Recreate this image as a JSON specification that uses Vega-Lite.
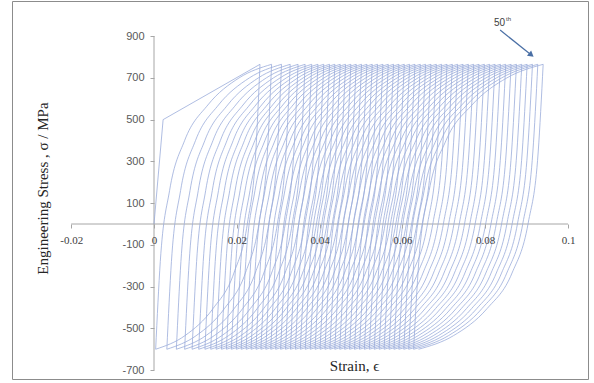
{"$schema":"https://vega.github.io/schema/vega-lite/v6.json","width":576,"height":378,"autosize":{"type":"none"},"padding":{"left":12,"top":1,"right":6,"bottom":4},"background":"white","config":{"view":{"stroke":"#8c8c8c","strokeWidth":1}},
"datasets":{
"axl":[{"x":-0.02,"x2":0.1,"y":0,"y2":0},{"x":0,"x2":0,"y":-700,"y2":900}],
"L":[
{"b":0,"x":0,"y":0},{"b":0,"x":0.0022,"y":500},{"b":0,"x":0.0256,"y":765},
{"b":1,"x":0.0256,"y":765},{"b":1,"x":0.02459,"y":345},{"b":1,"x":0.02258,"y":5},{"b":1,"x":0.0193,"y":-235},{"b":1,"x":0.01426,"y":-405},{"b":1,"x":0.00746,"y":-535},{"b":1,"x":0.0004,"y":-600},
{"b":2,"x":0.0004,"y":-600},{"b":2,"x":0.00152,"y":-180},{"b":2,"x":0.00376,"y":160},{"b":2,"x":0.0074,"y":400},{"b":2,"x":0.013,"y":570},{"b":2,"x":0.02056,"y":700},{"b":2,"x":0.0284,"y":765},
{"b":3,"x":0.0284,"y":765},{"b":3,"x":0.02739,"y":345},{"b":3,"x":0.02536,"y":5},{"b":3,"x":0.02207,"y":-235},{"b":3,"x":0.01701,"y":-405},{"b":3,"x":0.01018,"y":-535},{"b":3,"x":0.0031,"y":-600},
{"b":4,"x":0.0031,"y":-600},{"b":4,"x":0.00421,"y":-180},{"b":4,"x":0.00642,"y":160},{"b":4,"x":0.01003,"y":400},{"b":4,"x":0.01557,"y":570},{"b":4,"x":0.02304,"y":700},{"b":4,"x":0.0308,"y":765},
{"b":5,"x":0.0308,"y":765},{"b":5,"x":0.02978,"y":345},{"b":5,"x":0.02775,"y":5},{"b":5,"x":0.02445,"y":-235},{"b":5,"x":0.01937,"y":-405},{"b":5,"x":0.01251,"y":-535},{"b":5,"x":0.0054,"y":-600},
{"b":6,"x":0.0054,"y":-600},{"b":6,"x":0.0065,"y":-180},{"b":6,"x":0.0087,"y":160},{"b":6,"x":0.01228,"y":400},{"b":6,"x":0.01778,"y":570},{"b":6,"x":0.0252,"y":700},{"b":6,"x":0.0329,"y":765},
{"b":7,"x":0.0329,"y":765},{"b":7,"x":0.03188,"y":345},{"b":7,"x":0.02984,"y":5},{"b":7,"x":0.02652,"y":-235},{"b":7,"x":0.02142,"y":-405},{"b":7,"x":0.01454,"y":-535},{"b":7,"x":0.0074,"y":-600},
{"b":8,"x":0.0074,"y":-600},{"b":8,"x":0.0085,"y":-180},{"b":8,"x":0.01069,"y":160},{"b":8,"x":0.01425,"y":400},{"b":8,"x":0.01973,"y":570},{"b":8,"x":0.02713,"y":700},{"b":8,"x":0.0348,"y":765},
{"b":9,"x":0.0348,"y":765},{"b":9,"x":0.03378,"y":345},{"b":9,"x":0.03173,"y":5},{"b":9,"x":0.0284,"y":-235},{"b":9,"x":0.02328,"y":-405},{"b":9,"x":0.01637,"y":-535},{"b":9,"x":0.0092,"y":-600},
{"b":10,"x":0.0092,"y":-600},{"b":10,"x":0.01029,"y":-180},{"b":10,"x":0.01248,"y":160},{"b":10,"x":0.01603,"y":400},{"b":10,"x":0.02149,"y":570},{"b":10,"x":0.02886,"y":700},{"b":10,"x":0.0365,"y":765},
{"b":11,"x":0.0365,"y":765},{"b":11,"x":0.03547,"y":345},{"b":11,"x":0.03342,"y":5},{"b":11,"x":0.03007,"y":-235},{"b":11,"x":0.02493,"y":-405},{"b":11,"x":0.018,"y":-535},{"b":11,"x":0.0108,"y":-600},
{"b":12,"x":0.0108,"y":-600},{"b":12,"x":0.01189,"y":-180},{"b":12,"x":0.01408,"y":160},{"b":12,"x":0.01763,"y":400},{"b":12,"x":0.02309,"y":570},{"b":12,"x":0.03046,"y":700},{"b":12,"x":0.0381,"y":765},
{"b":13,"x":0.0381,"y":765},{"b":13,"x":0.03707,"y":345},{"b":13,"x":0.035,"y":5},{"b":13,"x":0.03165,"y":-235},{"b":13,"x":0.02649,"y":-405},{"b":13,"x":0.01952,"y":-535},{"b":13,"x":0.0123,"y":-600},
{"b":14,"x":0.0123,"y":-600},{"b":14,"x":0.01339,"y":-180},{"b":14,"x":0.01558,"y":160},{"b":14,"x":0.01913,"y":400},{"b":14,"x":0.02459,"y":570},{"b":14,"x":0.03196,"y":700},{"b":14,"x":0.0396,"y":765},
{"b":15,"x":0.0396,"y":765},{"b":15,"x":0.03856,"y":345},{"b":15,"x":0.03649,"y":5},{"b":15,"x":0.03312,"y":-235},{"b":15,"x":0.02794,"y":-405},{"b":15,"x":0.02095,"y":-535},{"b":15,"x":0.0137,"y":-600},
{"b":16,"x":0.0137,"y":-600},{"b":16,"x":0.01479,"y":-180},{"b":16,"x":0.01698,"y":160},{"b":16,"x":0.02053,"y":400},{"b":16,"x":0.02599,"y":570},{"b":16,"x":0.03336,"y":700},{"b":16,"x":0.041,"y":765},
{"b":17,"x":0.041,"y":765},{"b":17,"x":0.03996,"y":345},{"b":17,"x":0.03788,"y":5},{"b":17,"x":0.0345,"y":-235},{"b":17,"x":0.0293,"y":-405},{"b":17,"x":0.02228,"y":-535},{"b":17,"x":0.015,"y":-600},
{"b":18,"x":0.015,"y":-600},{"b":18,"x":0.0161,"y":-180},{"b":18,"x":0.01829,"y":160},{"b":18,"x":0.02185,"y":400},{"b":18,"x":0.02733,"y":570},{"b":18,"x":0.03473,"y":700},{"b":18,"x":0.0424,"y":765},
{"b":19,"x":0.0424,"y":765},{"b":19,"x":0.04136,"y":345},{"b":19,"x":0.03927,"y":5},{"b":19,"x":0.03588,"y":-235},{"b":19,"x":0.03066,"y":-405},{"b":19,"x":0.02361,"y":-535},{"b":19,"x":0.0163,"y":-600},
{"b":20,"x":0.0163,"y":-600},{"b":20,"x":0.0174,"y":-180},{"b":20,"x":0.01959,"y":160},{"b":20,"x":0.02315,"y":400},{"b":20,"x":0.02863,"y":570},{"b":20,"x":0.03602,"y":700},{"b":20,"x":0.04369,"y":765},
{"b":21,"x":0.04369,"y":765},{"b":21,"x":0.04264,"y":345},{"b":21,"x":0.04055,"y":5},{"b":21,"x":0.03714,"y":-235},{"b":21,"x":0.0319,"y":-405},{"b":21,"x":0.02483,"y":-535},{"b":21,"x":0.01749,"y":-600},
{"b":22,"x":0.01749,"y":-600},{"b":22,"x":0.01859,"y":-180},{"b":22,"x":0.02079,"y":160},{"b":22,"x":0.02436,"y":400},{"b":22,"x":0.02986,"y":570},{"b":22,"x":0.03728,"y":700},{"b":22,"x":0.04498,"y":765},
{"b":23,"x":0.04498,"y":765},{"b":23,"x":0.04393,"y":345},{"b":23,"x":0.04182,"y":5},{"b":23,"x":0.03841,"y":-235},{"b":23,"x":0.03315,"y":-405},{"b":23,"x":0.02604,"y":-535},{"b":23,"x":0.01868,"y":-600},
{"b":24,"x":0.01868,"y":-600},{"b":24,"x":0.01978,"y":-180},{"b":24,"x":0.02199,"y":160},{"b":24,"x":0.02558,"y":400},{"b":24,"x":0.0311,"y":570},{"b":24,"x":0.03854,"y":700},{"b":24,"x":0.04627,"y":765},
{"b":25,"x":0.04627,"y":765},{"b":25,"x":0.04521,"y":345},{"b":25,"x":0.0431,"y":5},{"b":25,"x":0.03967,"y":-235},{"b":25,"x":0.03439,"y":-405},{"b":25,"x":0.02726,"y":-535},{"b":25,"x":0.01987,"y":-600},
{"b":26,"x":0.01987,"y":-600},{"b":26,"x":0.02098,"y":-180},{"b":26,"x":0.02319,"y":160},{"b":26,"x":0.02679,"y":400},{"b":26,"x":0.03233,"y":570},{"b":26,"x":0.03981,"y":700},{"b":26,"x":0.04756,"y":765},
{"b":27,"x":0.04756,"y":765},{"b":27,"x":0.0465,"y":345},{"b":27,"x":0.04438,"y":5},{"b":27,"x":0.04094,"y":-235},{"b":27,"x":0.03564,"y":-405},{"b":27,"x":0.02848,"y":-535},{"b":27,"x":0.02106,"y":-600},
{"b":28,"x":0.02106,"y":-600},{"b":28,"x":0.02217,"y":-180},{"b":28,"x":0.02439,"y":160},{"b":28,"x":0.02801,"y":400},{"b":28,"x":0.03357,"y":570},{"b":28,"x":0.04107,"y":700},{"b":28,"x":0.04885,"y":765},
{"b":29,"x":0.04885,"y":765},{"b":29,"x":0.04779,"y":345},{"b":29,"x":0.04566,"y":5},{"b":29,"x":0.0422,"y":-235},{"b":29,"x":0.03688,"y":-405},{"b":29,"x":0.0297,"y":-535},{"b":29,"x":0.02225,"y":-600},
{"b":30,"x":0.02225,"y":-600},{"b":30,"x":0.02337,"y":-180},{"b":30,"x":0.0256,"y":160},{"b":30,"x":0.02922,"y":400},{"b":30,"x":0.0348,"y":570},{"b":30,"x":0.04233,"y":700},{"b":30,"x":0.05014,"y":765},
{"b":31,"x":0.05014,"y":765},{"b":31,"x":0.04907,"y":345},{"b":31,"x":0.04694,"y":5},{"b":31,"x":0.04347,"y":-235},{"b":31,"x":0.03813,"y":-405},{"b":31,"x":0.03092,"y":-535},{"b":31,"x":0.02344,"y":-600},
{"b":32,"x":0.02344,"y":-600},{"b":32,"x":0.02456,"y":-180},{"b":32,"x":0.0268,"y":160},{"b":32,"x":0.03044,"y":400},{"b":32,"x":0.03604,"y":570},{"b":32,"x":0.04359,"y":700},{"b":32,"x":0.05143,"y":765},
{"b":33,"x":0.05143,"y":765},{"b":33,"x":0.05036,"y":345},{"b":33,"x":0.04821,"y":5},{"b":33,"x":0.04473,"y":-235},{"b":33,"x":0.03937,"y":-405},{"b":33,"x":0.03213,"y":-535},{"b":33,"x":0.02463,"y":-600},
{"b":34,"x":0.02463,"y":-600},{"b":34,"x":0.02575,"y":-180},{"b":34,"x":0.028,"y":160},{"b":34,"x":0.03165,"y":400},{"b":34,"x":0.03727,"y":570},{"b":34,"x":0.04485,"y":700},{"b":34,"x":0.05272,"y":765},
{"b":35,"x":0.05272,"y":765},{"b":35,"x":0.05164,"y":345},{"b":35,"x":0.04949,"y":5},{"b":35,"x":0.046,"y":-235},{"b":35,"x":0.04062,"y":-405},{"b":35,"x":0.03335,"y":-535},{"b":35,"x":0.02582,"y":-600},
{"b":36,"x":0.02582,"y":-600},{"b":36,"x":0.02695,"y":-180},{"b":36,"x":0.0292,"y":160},{"b":36,"x":0.03287,"y":400},{"b":36,"x":0.03851,"y":570},{"b":36,"x":0.04612,"y":700},{"b":36,"x":0.05401,"y":765},
{"b":37,"x":0.05401,"y":765},{"b":37,"x":0.05293,"y":345},{"b":37,"x":0.05077,"y":5},{"b":37,"x":0.04726,"y":-235},{"b":37,"x":0.04186,"y":-405},{"b":37,"x":0.03457,"y":-535},{"b":37,"x":0.02701,"y":-600},
{"b":38,"x":0.02701,"y":-600},{"b":38,"x":0.02814,"y":-180},{"b":38,"x":0.0304,"y":160},{"b":38,"x":0.03408,"y":400},{"b":38,"x":0.03974,"y":570},{"b":38,"x":0.04738,"y":700},{"b":38,"x":0.0553,"y":765},
{"b":39,"x":0.0553,"y":765},{"b":39,"x":0.05422,"y":345},{"b":39,"x":0.05205,"y":5},{"b":39,"x":0.04853,"y":-235},{"b":39,"x":0.04311,"y":-405},{"b":39,"x":0.03579,"y":-535},{"b":39,"x":0.0282,"y":-600},
{"b":40,"x":0.0282,"y":-600},{"b":40,"x":0.02934,"y":-180},{"b":40,"x":0.03161,"y":160},{"b":40,"x":0.0353,"y":400},{"b":40,"x":0.04098,"y":570},{"b":40,"x":0.04864,"y":700},{"b":40,"x":0.05659,"y":765},
{"b":41,"x":0.05659,"y":765},{"b":41,"x":0.0555,"y":345},{"b":41,"x":0.05333,"y":5},{"b":41,"x":0.04979,"y":-235},{"b":41,"x":0.04435,"y":-405},{"b":41,"x":0.03701,"y":-535},{"b":41,"x":0.02939,"y":-600},
{"b":42,"x":0.02939,"y":-600},{"b":42,"x":0.03053,"y":-180},{"b":42,"x":0.03281,"y":160},{"b":42,"x":0.03651,"y":400},{"b":42,"x":0.04221,"y":570},{"b":42,"x":0.0499,"y":700},{"b":42,"x":0.05788,"y":765},
{"b":43,"x":0.05788,"y":765},{"b":43,"x":0.05679,"y":345},{"b":43,"x":0.0546,"y":5},{"b":43,"x":0.05106,"y":-235},{"b":43,"x":0.0456,"y":-405},{"b":43,"x":0.03822,"y":-535},{"b":43,"x":0.03058,"y":-600},
{"b":44,"x":0.03058,"y":-600},{"b":44,"x":0.03172,"y":-180},{"b":44,"x":0.03401,"y":160},{"b":44,"x":0.03773,"y":400},{"b":44,"x":0.04345,"y":570},{"b":44,"x":0.05116,"y":700},{"b":44,"x":0.05917,"y":765},
{"b":45,"x":0.05917,"y":765},{"b":45,"x":0.05807,"y":345},{"b":45,"x":0.05588,"y":5},{"b":45,"x":0.05232,"y":-235},{"b":45,"x":0.04684,"y":-405},{"b":45,"x":0.03944,"y":-535},{"b":45,"x":0.03177,"y":-600},
{"b":46,"x":0.03177,"y":-600},{"b":46,"x":0.03292,"y":-180},{"b":46,"x":0.03521,"y":160},{"b":46,"x":0.03894,"y":400},{"b":46,"x":0.04468,"y":570},{"b":46,"x":0.05243,"y":700},{"b":46,"x":0.06046,"y":765},
{"b":47,"x":0.06046,"y":765},{"b":47,"x":0.05936,"y":345},{"b":47,"x":0.05716,"y":5},{"b":47,"x":0.05359,"y":-235},{"b":47,"x":0.04809,"y":-405},{"b":47,"x":0.04066,"y":-535},{"b":47,"x":0.03296,"y":-600},
{"b":48,"x":0.03296,"y":-600},{"b":48,"x":0.03411,"y":-180},{"b":48,"x":0.03641,"y":160},{"b":48,"x":0.04016,"y":400},{"b":48,"x":0.04592,"y":570},{"b":48,"x":0.05369,"y":700},{"b":48,"x":0.06175,"y":765},
{"b":49,"x":0.06175,"y":765},{"b":49,"x":0.06065,"y":345},{"b":49,"x":0.05844,"y":5},{"b":49,"x":0.05485,"y":-235},{"b":49,"x":0.04933,"y":-405},{"b":49,"x":0.04188,"y":-535},{"b":49,"x":0.03415,"y":-600},
{"b":50,"x":0.03415,"y":-600},{"b":50,"x":0.03531,"y":-180},{"b":50,"x":0.03762,"y":160},{"b":50,"x":0.04137,"y":400},{"b":50,"x":0.04715,"y":570},{"b":50,"x":0.05495,"y":700},{"b":50,"x":0.06304,"y":765},
{"b":51,"x":0.06304,"y":765},{"b":51,"x":0.06193,"y":345},{"b":51,"x":0.05972,"y":5},{"b":51,"x":0.05612,"y":-235},{"b":51,"x":0.05058,"y":-405},{"b":51,"x":0.0431,"y":-535},{"b":51,"x":0.03534,"y":-600},
{"b":52,"x":0.03534,"y":-600},{"b":52,"x":0.0365,"y":-180},{"b":52,"x":0.03882,"y":160},{"b":52,"x":0.04259,"y":400},{"b":52,"x":0.04839,"y":570},{"b":52,"x":0.05621,"y":700},{"b":52,"x":0.06433,"y":765},
{"b":53,"x":0.06433,"y":765},{"b":53,"x":0.06322,"y":345},{"b":53,"x":0.06099,"y":5},{"b":53,"x":0.05738,"y":-235},{"b":53,"x":0.05182,"y":-405},{"b":53,"x":0.04431,"y":-535},{"b":53,"x":0.03653,"y":-600},
{"b":54,"x":0.03653,"y":-600},{"b":54,"x":0.03769,"y":-180},{"b":54,"x":0.04002,"y":160},{"b":54,"x":0.0438,"y":400},{"b":54,"x":0.04962,"y":570},{"b":54,"x":0.05747,"y":700},{"b":54,"x":0.06562,"y":765},
{"b":55,"x":0.06562,"y":765},{"b":55,"x":0.0645,"y":345},{"b":55,"x":0.06227,"y":5},{"b":55,"x":0.05865,"y":-235},{"b":55,"x":0.05307,"y":-405},{"b":55,"x":0.04553,"y":-535},{"b":55,"x":0.03772,"y":-600},
{"b":56,"x":0.03772,"y":-600},{"b":56,"x":0.03889,"y":-180},{"b":56,"x":0.04122,"y":160},{"b":56,"x":0.04502,"y":400},{"b":56,"x":0.05086,"y":570},{"b":56,"x":0.05874,"y":700},{"b":56,"x":0.06691,"y":765},
{"b":57,"x":0.06691,"y":765},{"b":57,"x":0.06579,"y":345},{"b":57,"x":0.06355,"y":5},{"b":57,"x":0.05991,"y":-235},{"b":57,"x":0.05431,"y":-405},{"b":57,"x":0.04675,"y":-535},{"b":57,"x":0.03891,"y":-600},
{"b":58,"x":0.03891,"y":-600},{"b":58,"x":0.04008,"y":-180},{"b":58,"x":0.04242,"y":160},{"b":58,"x":0.04623,"y":400},{"b":58,"x":0.05209,"y":570},{"b":58,"x":0.06,"y":700},{"b":58,"x":0.0682,"y":765},
{"b":59,"x":0.0682,"y":765},{"b":59,"x":0.06708,"y":345},{"b":59,"x":0.06483,"y":5},{"b":59,"x":0.06118,"y":-235},{"b":59,"x":0.05556,"y":-405},{"b":59,"x":0.04797,"y":-535},{"b":59,"x":0.0401,"y":-600},
{"b":60,"x":0.0401,"y":-600},{"b":60,"x":0.04128,"y":-180},{"b":60,"x":0.04363,"y":160},{"b":60,"x":0.04745,"y":400},{"b":60,"x":0.05333,"y":570},{"b":60,"x":0.06126,"y":700},{"b":60,"x":0.06949,"y":765},
{"b":61,"x":0.06949,"y":765},{"b":61,"x":0.06836,"y":345},{"b":61,"x":0.06611,"y":5},{"b":61,"x":0.06244,"y":-235},{"b":61,"x":0.0568,"y":-405},{"b":61,"x":0.04919,"y":-535},{"b":61,"x":0.04129,"y":-600},
{"b":62,"x":0.04129,"y":-600},{"b":62,"x":0.04247,"y":-180},{"b":62,"x":0.04483,"y":160},{"b":62,"x":0.04866,"y":400},{"b":62,"x":0.05456,"y":570},{"b":62,"x":0.06252,"y":700},{"b":62,"x":0.07078,"y":765},
{"b":63,"x":0.07078,"y":765},{"b":63,"x":0.06965,"y":345},{"b":63,"x":0.06738,"y":5},{"b":63,"x":0.06371,"y":-235},{"b":63,"x":0.05805,"y":-405},{"b":63,"x":0.0504,"y":-535},{"b":63,"x":0.04248,"y":-600},
{"b":64,"x":0.04248,"y":-600},{"b":64,"x":0.04366,"y":-180},{"b":64,"x":0.04603,"y":160},{"b":64,"x":0.04988,"y":400},{"b":64,"x":0.0558,"y":570},{"b":64,"x":0.06378,"y":700},{"b":64,"x":0.07207,"y":765},
{"b":65,"x":0.07207,"y":765},{"b":65,"x":0.07093,"y":345},{"b":65,"x":0.06866,"y":5},{"b":65,"x":0.06497,"y":-235},{"b":65,"x":0.05929,"y":-405},{"b":65,"x":0.05162,"y":-535},{"b":65,"x":0.04367,"y":-600},
{"b":66,"x":0.04367,"y":-600},{"b":66,"x":0.04486,"y":-180},{"b":66,"x":0.04723,"y":160},{"b":66,"x":0.05109,"y":400},{"b":66,"x":0.05703,"y":570},{"b":66,"x":0.06505,"y":700},{"b":66,"x":0.07336,"y":765},
{"b":67,"x":0.07336,"y":765},{"b":67,"x":0.07222,"y":345},{"b":67,"x":0.06994,"y":5},{"b":67,"x":0.06624,"y":-235},{"b":67,"x":0.06054,"y":-405},{"b":67,"x":0.05284,"y":-535},{"b":67,"x":0.04486,"y":-600},
{"b":68,"x":0.04486,"y":-600},{"b":68,"x":0.04605,"y":-180},{"b":68,"x":0.04843,"y":160},{"b":68,"x":0.05231,"y":400},{"b":68,"x":0.05827,"y":570},{"b":68,"x":0.06631,"y":700},{"b":68,"x":0.07465,"y":765},
{"b":69,"x":0.07465,"y":765},{"b":69,"x":0.07351,"y":345},{"b":69,"x":0.07122,"y":5},{"b":69,"x":0.0675,"y":-235},{"b":69,"x":0.06178,"y":-405},{"b":69,"x":0.05406,"y":-535},{"b":69,"x":0.04605,"y":-600},
{"b":70,"x":0.04605,"y":-600},{"b":70,"x":0.04725,"y":-180},{"b":70,"x":0.04964,"y":160},{"b":70,"x":0.05352,"y":400},{"b":70,"x":0.0595,"y":570},{"b":70,"x":0.06757,"y":700},{"b":70,"x":0.07594,"y":765},
{"b":71,"x":0.07594,"y":765},{"b":71,"x":0.07479,"y":345},{"b":71,"x":0.0725,"y":5},{"b":71,"x":0.06877,"y":-235},{"b":71,"x":0.06303,"y":-405},{"b":71,"x":0.05528,"y":-535},{"b":71,"x":0.04724,"y":-600},
{"b":72,"x":0.04724,"y":-600},{"b":72,"x":0.04844,"y":-180},{"b":72,"x":0.05084,"y":160},{"b":72,"x":0.05474,"y":400},{"b":72,"x":0.06074,"y":570},{"b":72,"x":0.06883,"y":700},{"b":72,"x":0.07723,"y":765},
{"b":73,"x":0.07723,"y":765},{"b":73,"x":0.07608,"y":345},{"b":73,"x":0.07377,"y":5},{"b":73,"x":0.07003,"y":-235},{"b":73,"x":0.06427,"y":-405},{"b":73,"x":0.05649,"y":-535},{"b":73,"x":0.04843,"y":-600},
{"b":74,"x":0.04843,"y":-600},{"b":74,"x":0.04963,"y":-180},{"b":74,"x":0.05204,"y":160},{"b":74,"x":0.05595,"y":400},{"b":74,"x":0.06197,"y":570},{"b":74,"x":0.07009,"y":700},{"b":74,"x":0.07852,"y":765},
{"b":75,"x":0.07852,"y":765},{"b":75,"x":0.07736,"y":345},{"b":75,"x":0.07505,"y":5},{"b":75,"x":0.0713,"y":-235},{"b":75,"x":0.06552,"y":-405},{"b":75,"x":0.05771,"y":-535},{"b":75,"x":0.04962,"y":-600},
{"b":76,"x":0.04962,"y":-600},{"b":76,"x":0.05083,"y":-180},{"b":76,"x":0.05324,"y":160},{"b":76,"x":0.05717,"y":400},{"b":76,"x":0.06321,"y":570},{"b":76,"x":0.07136,"y":700},{"b":76,"x":0.07981,"y":765},
{"b":77,"x":0.07981,"y":765},{"b":77,"x":0.07865,"y":345},{"b":77,"x":0.07633,"y":5},{"b":77,"x":0.07256,"y":-235},{"b":77,"x":0.06676,"y":-405},{"b":77,"x":0.05893,"y":-535},{"b":77,"x":0.05081,"y":-600},
{"b":78,"x":0.05081,"y":-600},{"b":78,"x":0.05202,"y":-180},{"b":78,"x":0.05444,"y":160},{"b":78,"x":0.05838,"y":400},{"b":78,"x":0.06444,"y":570},{"b":78,"x":0.07262,"y":700},{"b":78,"x":0.0811,"y":765},
{"b":79,"x":0.0811,"y":765},{"b":79,"x":0.07994,"y":345},{"b":79,"x":0.07761,"y":5},{"b":79,"x":0.07383,"y":-235},{"b":79,"x":0.06801,"y":-405},{"b":79,"x":0.06015,"y":-535},{"b":79,"x":0.052,"y":-600},
{"b":80,"x":0.052,"y":-600},{"b":80,"x":0.05322,"y":-180},{"b":80,"x":0.05565,"y":160},{"b":80,"x":0.0596,"y":400},{"b":80,"x":0.06568,"y":570},{"b":80,"x":0.07388,"y":700},{"b":80,"x":0.08239,"y":765},
{"b":81,"x":0.08239,"y":765},{"b":81,"x":0.08122,"y":345},{"b":81,"x":0.07889,"y":5},{"b":81,"x":0.07509,"y":-235},{"b":81,"x":0.06925,"y":-405},{"b":81,"x":0.06137,"y":-535},{"b":81,"x":0.05319,"y":-600},
{"b":82,"x":0.05319,"y":-600},{"b":82,"x":0.05441,"y":-180},{"b":82,"x":0.05685,"y":160},{"b":82,"x":0.06081,"y":400},{"b":82,"x":0.06691,"y":570},{"b":82,"x":0.07514,"y":700},{"b":82,"x":0.08368,"y":765},
{"b":83,"x":0.08368,"y":765},{"b":83,"x":0.08251,"y":345},{"b":83,"x":0.08016,"y":5},{"b":83,"x":0.07636,"y":-235},{"b":83,"x":0.0705,"y":-405},{"b":83,"x":0.06258,"y":-535},{"b":83,"x":0.05438,"y":-600},
{"b":84,"x":0.05438,"y":-600},{"b":84,"x":0.0556,"y":-180},{"b":84,"x":0.05805,"y":160},{"b":84,"x":0.06203,"y":400},{"b":84,"x":0.06815,"y":570},{"b":84,"x":0.0764,"y":700},{"b":84,"x":0.08497,"y":765},
{"b":85,"x":0.08497,"y":765},{"b":85,"x":0.08379,"y":345},{"b":85,"x":0.08144,"y":5},{"b":85,"x":0.07762,"y":-235},{"b":85,"x":0.07174,"y":-405},{"b":85,"x":0.0638,"y":-535},{"b":85,"x":0.05557,"y":-600},
{"b":86,"x":0.05557,"y":-600},{"b":86,"x":0.0568,"y":-180},{"b":86,"x":0.05925,"y":160},{"b":86,"x":0.06324,"y":400},{"b":86,"x":0.06938,"y":570},{"b":86,"x":0.07767,"y":700},{"b":86,"x":0.08626,"y":765},
{"b":87,"x":0.08626,"y":765},{"b":87,"x":0.08508,"y":345},{"b":87,"x":0.08272,"y":5},{"b":87,"x":0.07889,"y":-235},{"b":87,"x":0.07299,"y":-405},{"b":87,"x":0.06502,"y":-535},{"b":87,"x":0.05676,"y":-600},
{"b":88,"x":0.05676,"y":-600},{"b":88,"x":0.05799,"y":-180},{"b":88,"x":0.06045,"y":160},{"b":88,"x":0.06446,"y":400},{"b":88,"x":0.07062,"y":570},{"b":88,"x":0.07893,"y":700},{"b":88,"x":0.08755,"y":765},
{"b":89,"x":0.08755,"y":765},{"b":89,"x":0.08637,"y":345},{"b":89,"x":0.084,"y":5},{"b":89,"x":0.08015,"y":-235},{"b":89,"x":0.07423,"y":-405},{"b":89,"x":0.06624,"y":-535},{"b":89,"x":0.05795,"y":-600},
{"b":90,"x":0.05795,"y":-600},{"b":90,"x":0.05919,"y":-180},{"b":90,"x":0.06166,"y":160},{"b":90,"x":0.06567,"y":400},{"b":90,"x":0.07185,"y":570},{"b":90,"x":0.08019,"y":700},{"b":90,"x":0.08884,"y":765},
{"b":91,"x":0.08884,"y":765},{"b":91,"x":0.08765,"y":345},{"b":91,"x":0.08528,"y":5},{"b":91,"x":0.08142,"y":-235},{"b":91,"x":0.07548,"y":-405},{"b":91,"x":0.06746,"y":-535},{"b":91,"x":0.05914,"y":-600},
{"b":92,"x":0.05914,"y":-600},{"b":92,"x":0.06038,"y":-180},{"b":92,"x":0.06286,"y":160},{"b":92,"x":0.06689,"y":400},{"b":92,"x":0.07309,"y":570},{"b":92,"x":0.08145,"y":700},{"b":92,"x":0.09013,"y":765},
{"b":93,"x":0.09013,"y":765},{"b":93,"x":0.08894,"y":345},{"b":93,"x":0.08655,"y":5},{"b":93,"x":0.08268,"y":-235},{"b":93,"x":0.07672,"y":-405},{"b":93,"x":0.06867,"y":-535},{"b":93,"x":0.06033,"y":-600},
{"b":94,"x":0.06033,"y":-600},{"b":94,"x":0.06157,"y":-180},{"b":94,"x":0.06406,"y":160},{"b":94,"x":0.0681,"y":400},{"b":94,"x":0.07432,"y":570},{"b":94,"x":0.08271,"y":700},{"b":94,"x":0.09142,"y":765},
{"b":95,"x":0.09142,"y":765},{"b":95,"x":0.09022,"y":345},{"b":95,"x":0.08783,"y":5},{"b":95,"x":0.08395,"y":-235},{"b":95,"x":0.07797,"y":-405},{"b":95,"x":0.06989,"y":-535},{"b":95,"x":0.06152,"y":-600},
{"b":96,"x":0.06152,"y":-600},{"b":96,"x":0.06277,"y":-180},{"b":96,"x":0.06526,"y":160},{"b":96,"x":0.06932,"y":400},{"b":96,"x":0.07556,"y":570},{"b":96,"x":0.08398,"y":700},{"b":96,"x":0.09271,"y":765},
{"b":97,"x":0.09271,"y":765},{"b":97,"x":0.09151,"y":345},{"b":97,"x":0.08911,"y":5},{"b":97,"x":0.08521,"y":-235},{"b":97,"x":0.07921,"y":-405},{"b":97,"x":0.07111,"y":-535},{"b":97,"x":0.06271,"y":-600},
{"b":98,"x":0.06271,"y":-600},{"b":98,"x":0.06396,"y":-180},{"b":98,"x":0.06646,"y":160},{"b":98,"x":0.07053,"y":400},{"b":98,"x":0.07679,"y":570},{"b":98,"x":0.08524,"y":700},{"b":98,"x":0.094,"y":765},
{"b":99,"x":0.094,"y":765},{"b":99,"x":0.0928,"y":345},{"b":99,"x":0.09039,"y":5},{"b":99,"x":0.08648,"y":-235},{"b":99,"x":0.08046,"y":-405},{"b":99,"x":0.07233,"y":-535},{"b":99,"x":0.0639,"y":-600}
]},
"layer":[
{"data":{"name":"axl"},"mark":{"type":"rule","color":"#a6a6a6","strokeWidth":1},
"encoding":{"x":{"field":"x","type":"quantitative","scale":{"domain":[-0.0343,0.10483],"nice":false,"zero":false},
"axis":{"zindex":1,"values":[-0.02,0,0.02,0.04,0.06,0.08,0.1],"labelExpr":"''+datum.value","domain":false,"grid":false,"tickSize":4,"tickColor":"#a6a6a6","labelFont":"Liberation Serif","labelFontSize":11,"labelColor":"#404040","labelPadding":6,"labelFlush":false,"labelOverlap":false,"labelBound":false,"offset":-155,"title":"Strain, ϵ","titleFont":"Liberation Serif","titleFontSize":15,"titleFontWeight":"normal","titleColor":"#262626","titleX":342,"titleY":141,"titleBaseline":"middle","titleAlign":"center"}},
"x2":{"field":"x2"},
"y":{"field":"y","type":"quantitative","scale":{"domain":[-742.5,1068.3],"nice":false,"zero":false},
"axis":{"zindex":1,"values":[-700,-500,-300,-100,100,300,500,700,900],"labelExpr":"''+datum.value","domain":false,"grid":false,"tickSize":4,"tickColor":"#a6a6a6","labelFont":"Liberation Sans","labelFontSize":11,"labelColor":"#595959","labelPadding":6,"labelFlush":false,"labelOverlap":false,"labelBound":false,"offset":-142,"title":"Engineering Stress , σ / MPa","titleFont":"Liberation Serif","titleFontSize":15,"titleFontWeight":"normal","titleColor":"#262626","titleX":-112,"titleY":187,"titleBaseline":"middle","titleAlign":"center","titleAngle":-90}},
"y2":{"field":"y2"}}},
{"data":{"name":"L"},"transform":[{"filter":"datum.b > 0"}],"mark":{"type":"line","interpolate":"monotone","color":"#9aacda","strokeWidth":0.8},
"encoding":{"x":{"field":"x","type":"quantitative"},"y":{"field":"y","type":"quantitative"},"detail":{"field":"b","type":"nominal"}}},
{"data":{"name":"L"},"transform":[{"filter":"datum.b == 0"}],"mark":{"type":"line","interpolate":"linear","color":"#9aacda","strokeWidth":0.8},
"encoding":{"x":{"field":"x","type":"quantitative"},"y":{"field":"y","type":"quantitative"}}},
{"data":{"values":[{"x":0.0836,"y":929,"x2":0.09114,"y2":810}]},"mark":{"type":"rule","color":"#4a6fa5","strokeWidth":1.2},
"encoding":{"x":{"field":"x","type":"quantitative"},"y":{"field":"y","type":"quantitative"},"x2":{"field":"x2"},"y2":{"field":"y2"}}},
{"data":{"values":[{"x":0.09114,"y":810}]},"mark":{"type":"point","shape":"triangle-up","angle":128.5,"size":45,"filled":true,"color":"#4a6fa5","opacity":1},
"encoding":{"x":{"field":"x","type":"quantitative"},"y":{"field":"y","type":"quantitative"}}},
{"data":{"values":[{"x":0.08345,"y":965,"t":"50"}]},"mark":{"type":"text","font":"Liberation Sans","fontSize":10,"color":"#404040","align":"center","baseline":"middle"},
"encoding":{"x":{"field":"x","type":"quantitative"},"y":{"field":"y","type":"quantitative"},"text":{"field":"t"}}},
{"data":{"values":[{"x":0.08505,"y":982,"t":"th"}]},"mark":{"type":"text","font":"Liberation Sans","fontSize":6,"color":"#404040","align":"left","baseline":"middle"},
"encoding":{"x":{"field":"x","type":"quantitative"},"y":{"field":"y","type":"quantitative"},"text":{"field":"t"}}}
]}
